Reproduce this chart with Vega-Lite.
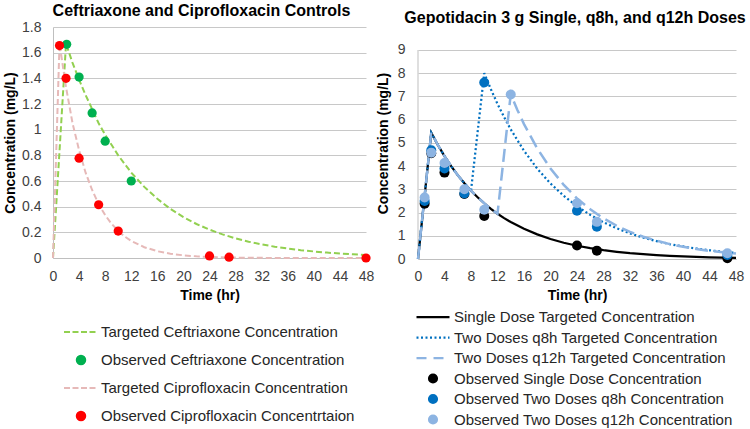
{
  "$schema": "https://vega.github.io/schema/vega-lite/v6.json",
  "background": "white",
  "padding": {"left": 3, "top": 3, "right": 0, "bottom": 0},
  "spacing": 2,
  "resolve": {"scale": {"color": "independent", "x": "independent", "y": "independent"}, "legend": {"color": "independent"}},
  "hconcat": [
    {
      "width": 313,
      "height": 231,
      "title": {"text": "Ceftriaxone and Ciprofloxacin Controls", "offset": 1, "frame": "group", "dx": -8},
      "encoding": {
        "x": {"field": "t", "type": "quantitative", "scale": {"domain": [0, 48], "nice": false},
              "axis": {"values": [0, 4, 8, 12, 16, 20, 24, 28, 32, 36, 40, 44, 48], "title": "Time (hr)", "labelPadding": 11, "titlePadding": 5}},
        "y": {"field": "c", "type": "quantitative", "scale": {"domain": [0, 1.8], "nice": false},
              "axis": {"values": [0, 0.2, 0.4, 0.6, 0.8, 1, 1.2, 1.4, 1.6, 1.8], "format": "~g", "title": "Concentration (mg/L)", "labelPadding": 12, "titlePadding": 4}},
        "color": {
          "field": "s", "type": "nominal",
          "scale": {
            "domain": ["Targeted Ceftriaxone Concentration", "Observed Ceftriaxone Concentration", "Targeted Ciprofloxacin Concentration", "Observed Ciprofloxacin Concentrtaion"],
            "range": ["#92D050", "#00B050", "#E6B9B8", "#FF0000"]
          },
          "legend": {
            "orient": "none", "legendX": 10, "legendY": 295, "title": null, "direction": "vertical",
            "symbolSize": 1156, "clipHeight": 20, "rowPadding": 8, "labelOffset": 2,
            "encode": {
              "symbols": {
                "update": {
                  "shape": {"signal": "indexof(datum.value, 'Observed') == 0 ? 'M-0.25,0A0.25,0.25,0,1,1,0.25,0A0.25,0.25,0,1,1,-0.25,0Z' : 'stroke'"},
                  "size": {"value": 1156},
                  "fill": {"signal": "datum.value == 'Observed Ceftriaxone Concentration' ? '#00B050' : datum.value == 'Observed Ciprofloxacin Concentrtaion' ? '#FF0000' : 'transparent'"},
                  "stroke": {"signal": "datum.value == 'Targeted Ceftriaxone Concentration' ? '#92D050' : datum.value == 'Targeted Ciprofloxacin Concentration' ? '#E6B9B8' : 'transparent'"},
                  "strokeDash": {"signal": "indexof(datum.value, 'Observed') == 0 ? [100, 0] : [6, 2.5]"},
                  "strokeWidth": {"value": 2},
                  "opacity": {"value": 1}
                }
              }
            }
          }
        }
      },
      "layer": [
        {
          "data": {"values": [
            {"t": 0, "c": 0, "s": "Targeted Ceftriaxone Concentration"},
            {"t": 2, "c": 1.67, "s": "Targeted Ceftriaxone Concentration"},
            {"t": 3, "c": 1.52, "s": "Targeted Ceftriaxone Concentration"},
            {"t": 4, "c": 1.39, "s": "Targeted Ceftriaxone Concentration"},
            {"t": 5, "c": 1.27, "s": "Targeted Ceftriaxone Concentration"},
            {"t": 6, "c": 1.16, "s": "Targeted Ceftriaxone Concentration"},
            {"t": 7, "c": 1.05, "s": "Targeted Ceftriaxone Concentration"},
            {"t": 8, "c": 0.96, "s": "Targeted Ceftriaxone Concentration"},
            {"t": 9, "c": 0.88, "s": "Targeted Ceftriaxone Concentration"},
            {"t": 10, "c": 0.8, "s": "Targeted Ceftriaxone Concentration"},
            {"t": 12, "c": 0.665, "s": "Targeted Ceftriaxone Concentration"},
            {"t": 14, "c": 0.554, "s": "Targeted Ceftriaxone Concentration"},
            {"t": 16, "c": 0.461, "s": "Targeted Ceftriaxone Concentration"},
            {"t": 18, "c": 0.383, "s": "Targeted Ceftriaxone Concentration"},
            {"t": 20, "c": 0.319, "s": "Targeted Ceftriaxone Concentration"},
            {"t": 22, "c": 0.265, "s": "Targeted Ceftriaxone Concentration"},
            {"t": 24, "c": 0.221, "s": "Targeted Ceftriaxone Concentration"},
            {"t": 26, "c": 0.184, "s": "Targeted Ceftriaxone Concentration"},
            {"t": 28, "c": 0.153, "s": "Targeted Ceftriaxone Concentration"},
            {"t": 30, "c": 0.127, "s": "Targeted Ceftriaxone Concentration"},
            {"t": 32, "c": 0.106, "s": "Targeted Ceftriaxone Concentration"},
            {"t": 34, "c": 0.088, "s": "Targeted Ceftriaxone Concentration"},
            {"t": 36, "c": 0.074, "s": "Targeted Ceftriaxone Concentration"},
            {"t": 38, "c": 0.061, "s": "Targeted Ceftriaxone Concentration"},
            {"t": 40, "c": 0.051, "s": "Targeted Ceftriaxone Concentration"},
            {"t": 42, "c": 0.042, "s": "Targeted Ceftriaxone Concentration"},
            {"t": 44, "c": 0.035, "s": "Targeted Ceftriaxone Concentration"},
            {"t": 46, "c": 0.029, "s": "Targeted Ceftriaxone Concentration"},
            {"t": 48, "c": 0.024, "s": "Targeted Ceftriaxone Concentration"},
            {"t": 0, "c": 0, "s": "Targeted Ciprofloxacin Concentration"},
            {"t": 1, "c": 1.67, "s": "Targeted Ciprofloxacin Concentration"},
            {"t": 2, "c": 1.33, "s": "Targeted Ciprofloxacin Concentration"},
            {"t": 3, "c": 1.05, "s": "Targeted Ciprofloxacin Concentration"},
            {"t": 4, "c": 0.84, "s": "Targeted Ciprofloxacin Concentration"},
            {"t": 5, "c": 0.665, "s": "Targeted Ciprofloxacin Concentration"},
            {"t": 6, "c": 0.53, "s": "Targeted Ciprofloxacin Concentration"},
            {"t": 7, "c": 0.42, "s": "Targeted Ciprofloxacin Concentration"},
            {"t": 8, "c": 0.334, "s": "Targeted Ciprofloxacin Concentration"},
            {"t": 9, "c": 0.265, "s": "Targeted Ciprofloxacin Concentration"},
            {"t": 10, "c": 0.211, "s": "Targeted Ciprofloxacin Concentration"},
            {"t": 11, "c": 0.167, "s": "Targeted Ciprofloxacin Concentration"},
            {"t": 12, "c": 0.133, "s": "Targeted Ciprofloxacin Concentration"},
            {"t": 14, "c": 0.084, "s": "Targeted Ciprofloxacin Concentration"},
            {"t": 16, "c": 0.053, "s": "Targeted Ciprofloxacin Concentration"},
            {"t": 18, "c": 0.033, "s": "Targeted Ciprofloxacin Concentration"},
            {"t": 20, "c": 0.021, "s": "Targeted Ciprofloxacin Concentration"},
            {"t": 22, "c": 0.013, "s": "Targeted Ciprofloxacin Concentration"},
            {"t": 24, "c": 0.008, "s": "Targeted Ciprofloxacin Concentration"},
            {"t": 28, "c": 0.003, "s": "Targeted Ciprofloxacin Concentration"},
            {"t": 32, "c": 0.001, "s": "Targeted Ciprofloxacin Concentration"},
            {"t": 40, "c": 0, "s": "Targeted Ciprofloxacin Concentration"},
            {"t": 48, "c": 0, "s": "Targeted Ciprofloxacin Concentration"}
          ]},
          "mark": {"type": "line", "strokeWidth": 2, "strokeDash": [6, 3]},
          "encoding": {}
        },
        {
          "data": {"values": [
            {"t": 2.1, "c": 1.665, "s": "Observed Ceftriaxone Concentration"},
            {"t": 4, "c": 1.41, "s": "Observed Ceftriaxone Concentration"},
            {"t": 6, "c": 1.13, "s": "Observed Ceftriaxone Concentration"},
            {"t": 8, "c": 0.91, "s": "Observed Ceftriaxone Concentration"},
            {"t": 12, "c": 0.6, "s": "Observed Ceftriaxone Concentration"},
            {"t": 1, "c": 1.655, "s": "Observed Ciprofloxacin Concentrtaion"},
            {"t": 2, "c": 1.4, "s": "Observed Ciprofloxacin Concentrtaion"},
            {"t": 4, "c": 0.778, "s": "Observed Ciprofloxacin Concentrtaion"},
            {"t": 7, "c": 0.415, "s": "Observed Ciprofloxacin Concentrtaion"},
            {"t": 10, "c": 0.21, "s": "Observed Ciprofloxacin Concentrtaion"},
            {"t": 24, "c": 0.016, "s": "Observed Ciprofloxacin Concentrtaion"},
            {"t": 27, "c": 0.006, "s": "Observed Ciprofloxacin Concentrtaion"},
            {"t": 48, "c": 0, "s": "Observed Ciprofloxacin Concentrtaion"}
          ]},
          "mark": {"type": "circle", "size": 85, "opacity": 1}
        }
      ]
    },
    {
      "width": 318,
      "height": 232,
      "title": {"text": "Gepotidacin 3 g Single, q8h, and q12h Doses", "offset": 1, "frame": "group", "dx": -2},
      "encoding": {
        "x": {"field": "t", "type": "quantitative", "scale": {"domain": [0, 48], "nice": false},
              "axis": {"values": [0, 4, 8, 12, 16, 20, 24, 28, 32, 36, 40, 44, 48], "title": "Time (hr)", "labelPadding": 10, "titlePadding": 5}},
        "y": {"field": "c", "type": "quantitative", "scale": {"domain": [0, 9.99], "nice": false, "zero": true},
              "axis": {"values": [0, 1, 2, 3, 4, 5, 6, 7, 8, 9], "title": "Concentration (mg/L)", "labelPadding": 13, "titlePadding": 7, "domain": false}},
        "color": {
          "field": "s", "type": "nominal",
          "scale": {
            "domain": ["Single Dose Targeted Concentration", "Two Doses q8h Targeted Concentration", "Two Doses q12h Targeted Concentration", "Observed Single Dose Concentration", "Observed Two Doses q8h Concentration", "Observed Two Doses q12h Concentration"],
            "range": ["#000000", "#0070C0", "#8DB4E2", "#000000", "#0070C0", "#8DB4E2"]
          },
          "legend": {
            "orient": "none", "legendX": -3, "legendY": 282, "title": null, "direction": "vertical",
            "symbolSize": 1089, "clipHeight": 16, "rowPadding": 4.5, "labelOffset": 3,
            "encode": {
              "symbols": {
                "update": {
                  "shape": {"signal": "indexof(datum.value, 'Observed') == 0 ? 'M-0.24,0A0.24,0.24,0,1,1,0.24,0A0.24,0.24,0,1,1,-0.24,0Z' : 'stroke'"},
                  "size": {"value": 1089},
                  "fill": {"signal": "datum.value == 'Observed Single Dose Concentration' ? '#000000' : datum.value == 'Observed Two Doses q8h Concentration' ? '#0070C0' : datum.value == 'Observed Two Doses q12h Concentration' ? '#8DB4E2' : 'transparent'"},
                  "stroke": {"signal": "datum.value == 'Single Dose Targeted Concentration' ? '#000000' : datum.value == 'Two Doses q8h Targeted Concentration' ? '#0070C0' : datum.value == 'Two Doses q12h Targeted Concentration' ? '#8DB4E2' : 'transparent'"},
                  "strokeDash": {"signal": "datum.value == 'Two Doses q8h Targeted Concentration' ? [2, 2.5] : datum.value == 'Two Doses q12h Targeted Concentration' ? [10, 7] : [100, 0]"},
                  "strokeWidth": {"value": 2.25},
                  "opacity": {"value": 1}
                }
              }
            }
          }
        }
      },
      "layer": [
        {
          "data": {"values": [{"t": 0, "c": 0, "c2": 9}]},
          "mark": {"type": "rule", "strokeWidth": 1},
          "encoding": {"y2": {"field": "c2"}, "color": {"value": "#bfbfbf"}}
        },
        {
          "data": {"values": [
            {"t": 0, "c": 0, "s": "Single Dose Targeted Concentration"},
            {"t": 2, "c": 5.44, "s": "Single Dose Targeted Concentration"},
            {"t": 3, "c": 4.91, "s": "Single Dose Targeted Concentration"},
            {"t": 4, "c": 4.43, "s": "Single Dose Targeted Concentration"},
            {"t": 5, "c": 4.0, "s": "Single Dose Targeted Concentration"},
            {"t": 6, "c": 3.61, "s": "Single Dose Targeted Concentration"},
            {"t": 7, "c": 3.26, "s": "Single Dose Targeted Concentration"},
            {"t": 8, "c": 2.94, "s": "Single Dose Targeted Concentration"},
            {"t": 9, "c": 2.66, "s": "Single Dose Targeted Concentration"},
            {"t": 10, "c": 2.4, "s": "Single Dose Targeted Concentration"},
            {"t": 11, "c": 2.16, "s": "Single Dose Targeted Concentration"},
            {"t": 12, "c": 1.95, "s": "Single Dose Targeted Concentration"},
            {"t": 13, "c": 1.76, "s": "Single Dose Targeted Concentration"},
            {"t": 14, "c": 1.59, "s": "Single Dose Targeted Concentration"},
            {"t": 16, "c": 1.3, "s": "Single Dose Targeted Concentration"},
            {"t": 18, "c": 1.06, "s": "Single Dose Targeted Concentration"},
            {"t": 20, "c": 0.86, "s": "Single Dose Targeted Concentration"},
            {"t": 22, "c": 0.7, "s": "Single Dose Targeted Concentration"},
            {"t": 24, "c": 0.57, "s": "Single Dose Targeted Concentration"},
            {"t": 26, "c": 0.465, "s": "Single Dose Targeted Concentration"},
            {"t": 28, "c": 0.38, "s": "Single Dose Targeted Concentration"},
            {"t": 30, "c": 0.31, "s": "Single Dose Targeted Concentration"},
            {"t": 32, "c": 0.25, "s": "Single Dose Targeted Concentration"},
            {"t": 34, "c": 0.205, "s": "Single Dose Targeted Concentration"},
            {"t": 36, "c": 0.167, "s": "Single Dose Targeted Concentration"},
            {"t": 38, "c": 0.136, "s": "Single Dose Targeted Concentration"},
            {"t": 40, "c": 0.111, "s": "Single Dose Targeted Concentration"},
            {"t": 42, "c": 0.09, "s": "Single Dose Targeted Concentration"},
            {"t": 44, "c": 0.073, "s": "Single Dose Targeted Concentration"},
            {"t": 46, "c": 0.06, "s": "Single Dose Targeted Concentration"},
            {"t": 48, "c": 0.049, "s": "Single Dose Targeted Concentration"}
          ]},
          "mark": {"type": "line", "strokeWidth": 2.25},
          "encoding": {}
        },
        {
          "data": {"values": [
            {"t": 0, "c": 0, "s": "Two Doses q8h Targeted Concentration"},
            {"t": 2, "c": 5.44, "s": "Two Doses q8h Targeted Concentration"},
            {"t": 3, "c": 4.91, "s": "Two Doses q8h Targeted Concentration"},
            {"t": 4, "c": 4.43, "s": "Two Doses q8h Targeted Concentration"},
            {"t": 5, "c": 4.0, "s": "Two Doses q8h Targeted Concentration"},
            {"t": 6, "c": 3.61, "s": "Two Doses q8h Targeted Concentration"},
            {"t": 7, "c": 3.26, "s": "Two Doses q8h Targeted Concentration"},
            {"t": 8, "c": 2.94, "s": "Two Doses q8h Targeted Concentration"},
            {"t": 10, "c": 8.0, "s": "Two Doses q8h Targeted Concentration"},
            {"t": 11, "c": 7.31, "s": "Two Doses q8h Targeted Concentration"},
            {"t": 12, "c": 6.68, "s": "Two Doses q8h Targeted Concentration"},
            {"t": 13, "c": 6.11, "s": "Two Doses q8h Targeted Concentration"},
            {"t": 14, "c": 5.58, "s": "Two Doses q8h Targeted Concentration"},
            {"t": 16, "c": 4.66, "s": "Two Doses q8h Targeted Concentration"},
            {"t": 18, "c": 3.89, "s": "Two Doses q8h Targeted Concentration"},
            {"t": 20, "c": 3.25, "s": "Two Doses q8h Targeted Concentration"},
            {"t": 22, "c": 2.72, "s": "Two Doses q8h Targeted Concentration"},
            {"t": 24, "c": 2.27, "s": "Two Doses q8h Targeted Concentration"},
            {"t": 26, "c": 1.9, "s": "Two Doses q8h Targeted Concentration"},
            {"t": 28, "c": 1.58, "s": "Two Doses q8h Targeted Concentration"},
            {"t": 30, "c": 1.32, "s": "Two Doses q8h Targeted Concentration"},
            {"t": 32, "c": 1.105, "s": "Two Doses q8h Targeted Concentration"},
            {"t": 34, "c": 0.92, "s": "Two Doses q8h Targeted Concentration"},
            {"t": 36, "c": 0.77, "s": "Two Doses q8h Targeted Concentration"},
            {"t": 38, "c": 0.64, "s": "Two Doses q8h Targeted Concentration"},
            {"t": 40, "c": 0.54, "s": "Two Doses q8h Targeted Concentration"},
            {"t": 42, "c": 0.45, "s": "Two Doses q8h Targeted Concentration"},
            {"t": 44, "c": 0.375, "s": "Two Doses q8h Targeted Concentration"},
            {"t": 46, "c": 0.31, "s": "Two Doses q8h Targeted Concentration"},
            {"t": 48, "c": 0.26, "s": "Two Doses q8h Targeted Concentration"}
          ]},
          "mark": {"type": "line", "strokeWidth": 2.25, "strokeDash": [2, 2.5]},
          "encoding": {}
        },
        {
          "data": {"values": [
            {"t": 0, "c": 0, "s": "Two Doses q12h Targeted Concentration"},
            {"t": 2, "c": 5.44, "s": "Two Doses q12h Targeted Concentration"},
            {"t": 3, "c": 4.91, "s": "Two Doses q12h Targeted Concentration"},
            {"t": 4, "c": 4.43, "s": "Two Doses q12h Targeted Concentration"},
            {"t": 5, "c": 4.0, "s": "Two Doses q12h Targeted Concentration"},
            {"t": 6, "c": 3.61, "s": "Two Doses q12h Targeted Concentration"},
            {"t": 7, "c": 3.26, "s": "Two Doses q12h Targeted Concentration"},
            {"t": 8, "c": 2.94, "s": "Two Doses q12h Targeted Concentration"},
            {"t": 9, "c": 2.66, "s": "Two Doses q12h Targeted Concentration"},
            {"t": 10, "c": 2.4, "s": "Two Doses q12h Targeted Concentration"},
            {"t": 11, "c": 2.16, "s": "Two Doses q12h Targeted Concentration"},
            {"t": 12, "c": 1.95, "s": "Two Doses q12h Targeted Concentration"},
            {"t": 14, "c": 7.1, "s": "Two Doses q12h Targeted Concentration"},
            {"t": 15, "c": 6.42, "s": "Two Doses q12h Targeted Concentration"},
            {"t": 16, "c": 5.81, "s": "Two Doses q12h Targeted Concentration"},
            {"t": 18, "c": 4.76, "s": "Two Doses q12h Targeted Concentration"},
            {"t": 20, "c": 3.9, "s": "Two Doses q12h Targeted Concentration"},
            {"t": 22, "c": 3.19, "s": "Two Doses q12h Targeted Concentration"},
            {"t": 24, "c": 2.61, "s": "Two Doses q12h Targeted Concentration"},
            {"t": 26, "c": 2.14, "s": "Two Doses q12h Targeted Concentration"},
            {"t": 28, "c": 1.75, "s": "Two Doses q12h Targeted Concentration"},
            {"t": 30, "c": 1.43, "s": "Two Doses q12h Targeted Concentration"},
            {"t": 32, "c": 1.17, "s": "Two Doses q12h Targeted Concentration"},
            {"t": 34, "c": 0.96, "s": "Two Doses q12h Targeted Concentration"},
            {"t": 36, "c": 0.79, "s": "Two Doses q12h Targeted Concentration"},
            {"t": 38, "c": 0.64, "s": "Two Doses q12h Targeted Concentration"},
            {"t": 40, "c": 0.53, "s": "Two Doses q12h Targeted Concentration"},
            {"t": 42, "c": 0.43, "s": "Two Doses q12h Targeted Concentration"},
            {"t": 44, "c": 0.35, "s": "Two Doses q12h Targeted Concentration"},
            {"t": 46, "c": 0.29, "s": "Two Doses q12h Targeted Concentration"},
            {"t": 48, "c": 0.24, "s": "Two Doses q12h Targeted Concentration"}
          ]},
          "mark": {"type": "line", "strokeWidth": 2.5, "strokeDash": [13, 6]},
          "encoding": {}
        },
        {
          "data": {"values": [
            {"t": 1, "c": 2.38, "s": "Observed Single Dose Concentration"},
            {"t": 2, "c": 4.55, "s": "Observed Single Dose Concentration"},
            {"t": 4, "c": 3.72, "s": "Observed Single Dose Concentration"},
            {"t": 7, "c": 2.8, "s": "Observed Single Dose Concentration"},
            {"t": 10, "c": 1.85, "s": "Observed Single Dose Concentration"},
            {"t": 24, "c": 0.58, "s": "Observed Single Dose Concentration"},
            {"t": 27, "c": 0.36, "s": "Observed Single Dose Concentration"},
            {"t": 46.7, "c": 0.03, "s": "Observed Single Dose Concentration"},
            {"t": 1, "c": 2.5, "s": "Observed Two Doses q8h Concentration"},
            {"t": 2, "c": 4.68, "s": "Observed Two Doses q8h Concentration"},
            {"t": 4, "c": 3.9, "s": "Observed Two Doses q8h Concentration"},
            {"t": 7, "c": 2.82, "s": "Observed Two Doses q8h Concentration"},
            {"t": 10, "c": 7.6, "s": "Observed Two Doses q8h Concentration"},
            {"t": 24, "c": 2.08, "s": "Observed Two Doses q8h Concentration"},
            {"t": 27, "c": 1.39, "s": "Observed Two Doses q8h Concentration"},
            {"t": 46.7, "c": 0.17, "s": "Observed Two Doses q8h Concentration"},
            {"t": 1, "c": 2.65, "s": "Observed Two Doses q12h Concentration"},
            {"t": 2, "c": 4.58, "s": "Observed Two Doses q12h Concentration"},
            {"t": 4, "c": 4.13, "s": "Observed Two Doses q12h Concentration"},
            {"t": 7, "c": 3.0, "s": "Observed Two Doses q12h Concentration"},
            {"t": 10, "c": 2.12, "s": "Observed Two Doses q12h Concentration"},
            {"t": 14, "c": 7.08, "s": "Observed Two Doses q12h Concentration"},
            {"t": 24, "c": 2.4, "s": "Observed Two Doses q12h Concentration"},
            {"t": 27, "c": 1.6, "s": "Observed Two Doses q12h Concentration"},
            {"t": 46.7, "c": 0.25, "s": "Observed Two Doses q12h Concentration"}
          ]},
          "mark": {"type": "circle", "size": 100, "opacity": 1}
        }
      ]
    }
  ],
  "config": {
    "font": "Liberation Sans",
    "view": {"stroke": null},
    "title": {"font": "Liberation Sans", "fontSize": 16, "fontWeight": "bold", "color": "#000000", "anchor": "middle"},
    "axis": {
      "labelFont": "Liberation Sans", "labelFontSize": 14, "labelColor": "#404040",
      "titleFont": "Liberation Sans", "titleFontSize": 14, "titleFontWeight": "bold", "titleColor": "#000000",
      "ticks": false, "domainColor": "#bfbfbf", "domainWidth": 1, "gridColor": "#c8c8c8", "gridWidth": 1,
      "labelOverlap": false, "labelFlush": false, "labelBound": false
    },
    "axisX": {"grid": false},
    "axisY": {"grid": true},
    "legend": {"labelFont": "Liberation Sans", "labelFontSize": 15, "labelColor": "#262626", "labelLimit": 400}
  }
}
